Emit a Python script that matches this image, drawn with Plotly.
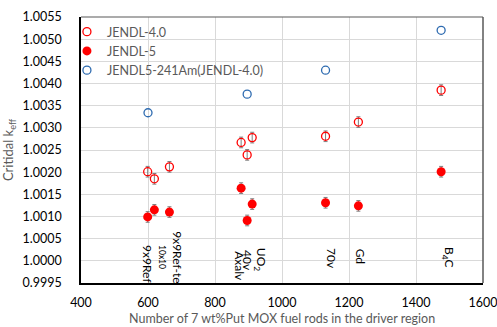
import plotly.graph_objects as go

# Data
x_main = [599, 619, 664, 878, 896, 911, 1130, 1228, 1475]
jendl40 = [1.00201, 1.00185, 1.00212, 1.00267, 1.00239, 1.00278, 1.00281, 1.00313, 1.00385]
jendl5 = [1.00099, 1.00115, 1.00110, 1.00164, 1.00091, 1.00128, 1.00131, 1.00124, 1.00201]
err40 = [0.00012] * 9
err5 = [0.00012] * 9
x_am = [600, 896, 1130, 1475]
jendl5_am = [1.00334, 1.00376, 1.00430, 1.00520]

label_text = ["9x9Ref", "10x10", "9x9Ref-te", "Axalv", "40v", "UO<sub>2</sub>", "70v", "Gd", "B<sub>4</sub>C"]
label_x = [600, 642, 687, 875, 895, 934, 1148, 1233, 1495]
label_y = [1.00040, 1.00040, 1.00071, 1.00026, 1.00028, 1.00033, 1.00033, 1.00033, 1.00035]

x_ticks = [400, 600, 800, 1000, 1200, 1400, 1600]
y_ticks = [0.9995, 1.0000, 1.0005, 1.0010, 1.0015, 1.0020, 1.0025, 1.0030,
           1.0035, 1.0040, 1.0045, 1.0050, 1.0055]

FONT = "Lato"
TXT = "#595959"
RED = "#ff0000"
BLUE = "#2e6bb0"
GRID = "#d9d9d9"
label_font_size = {"10x10": 8.5}

fig = go.Figure()
fig.add_trace(go.Scatter(
    x=x_main, y=jendl40, mode="markers", name="JENDL-4.0",
    marker=dict(symbol="circle-open", size=8, color=RED, line=dict(width=1.3, color=RED)),
    error_y=dict(type="data", array=err40, color="#7f7f7f", thickness=1, width=2),
))
fig.add_trace(go.Scatter(
    x=x_main, y=jendl5, mode="markers", name="JENDL-5",
    marker=dict(symbol="circle", size=9, color=RED),
    error_y=dict(type="data", array=err5, color="#7f7f7f", thickness=1, width=2),
))
fig.add_trace(go.Scatter(
    x=x_am, y=jendl5_am, mode="markers", name="JENDL5-241Am(JENDL-4.0)",
    marker=dict(symbol="circle-open", size=8, color=BLUE, line=dict(width=1.3, color=BLUE)),
))

for t, lx, ly in zip(label_text, label_x, label_y):
    fig.add_annotation(x=lx, y=ly, text=t, textangle=90, showarrow=False,
                       xanchor="center", yanchor="top",
                       font=dict(family=FONT, size=label_font_size.get(t, 12), color="#000000"))

fig.add_annotation(xref="paper", yref="paper", x=0.5, y=-0.133, xanchor="center",
                   yanchor="middle", showarrow=False,
                   text="Number of 7 wt%Put MOX fuel rods in the driver region",
                   font=dict(family=FONT, size=12.5, color=TXT))

# frame top/right
fig.add_shape(type="line", xref="paper", yref="paper", x0=0, x1=1, y0=1, y1=1,
              line=dict(color="#595959", width=1.2))
fig.add_shape(type="line", xref="paper", yref="paper", x0=1, x1=1, y0=0, y1=1,
              line=dict(color="#595959", width=1.5))

fig.update_layout(
    width=497, height=327,
    margin=dict(l=81, r=14, t=17, b=44, autoexpand=False),
    paper_bgcolor="white", plot_bgcolor="white",
    font=dict(family=FONT, size=13, color=TXT),
    showlegend=True,
    legend=dict(x=-0.035, y=1.0, xanchor="left", yanchor="top",
                bgcolor="rgba(0,0,0,0)", font=dict(family=FONT, size=12.5, color=TXT),
                itemsizing="trace", tracegroupgap=0, itemwidth=30),
    xaxis=dict(range=[400, 1600], tickvals=x_ticks, showgrid=True, gridcolor=GRID,
               gridwidth=1, showline=True, linecolor="#000000", linewidth=1.5,
               zeroline=False, ticks="", ticklabelstandoff=7, automargin=False,
               ticklabeloverflow="allow",
               tickfont=dict(family=FONT, size=12.5, color="#000000")),
    yaxis=dict(range=[0.9995, 1.0055], tickvals=y_ticks, tickformat=".4f",
               showgrid=True, gridcolor=GRID, gridwidth=1,
               showline=True, linecolor="#000000", linewidth=1.5,
               zeroline=False, ticks="", ticklabelstandoff=15, automargin=False,
               ticklabeloverflow="allow",
               tickfont=dict(family=FONT, size=12.5, color="#000000"),
               title=dict(text="Critidal k<sub>eff</sub>",
                          font=dict(family=FONT, size=13, color=TXT), standoff=6)),
)

fig.write_html("out.html", config={"displayModeBar": False},
               post_script="document.body.style.margin='0px';")
